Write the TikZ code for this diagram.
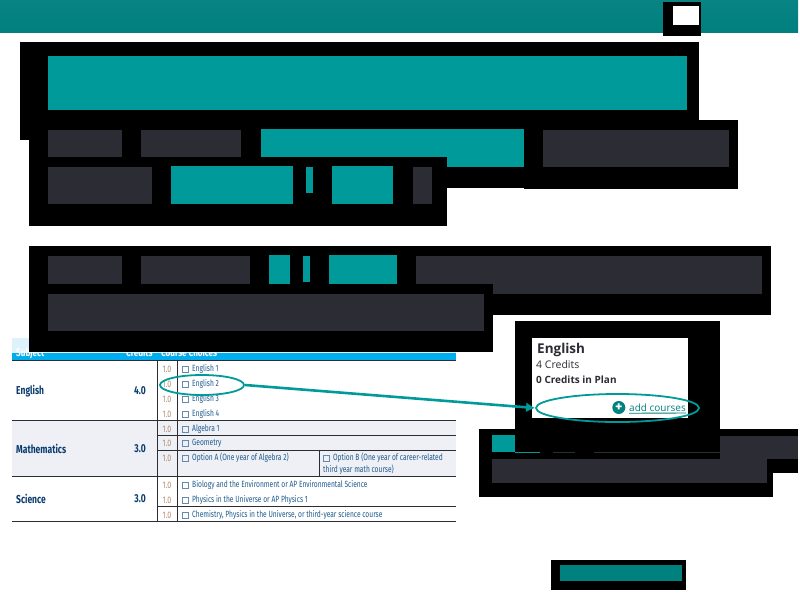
\documentclass[tikz,border=0pt]{standalone}
\usepackage{fontspec}
\setmainfont{Fira Sans}
\newfontfamily\tablefont[FakeStretch=0.74]{Fira Sans}
\newfontfamily\cardfont{Open Sans}
\usetikzlibrary{positioning,arrows.meta,shapes.geometric}
\definecolor{tealbar}{HTML}{00807F}
\definecolor{tealblock}{HTML}{009A9A}
\definecolor{darkblock}{HTML}{2C2C35}
\definecolor{headblue}{HTML}{00AEEF}
\definecolor{headpale}{HTML}{DDF2FB}
\definecolor{rowgrey}{HTML}{EEF0F6}
\definecolor{itemblue}{HTML}{1F5A8C}
\definecolor{subjblue}{HTML}{0B3C6F}
\definecolor{creditorange}{HTML}{B08A70}
\begin{document}
\begin{tikzpicture}[x=1pt,y=-1pt,
		redact/.style={fill=black},
		tealb/.style={fill=tealblock},
		darkb/.style={fill=darkblock},
		subject/.style={anchor=west,inner sep=0pt,font=\tablefont\bfseries\fontsize{11.5}{12}\selectfont,text=subjblue},
		amount/.style={anchor=east,inner sep=0pt,font=\tablefont\bfseries\fontsize{11.5}{12}\selectfont,text=subjblue},
		head/.style={anchor=base west,inner sep=0pt,font=\tablefont\bfseries\fontsize{11}{12}\selectfont,text=white},
		credit/.style={inner sep=0pt,font=\tablefont\fontsize{9.5}{10}\selectfont,text=creditorange},
		item/.style={anchor=west,inner sep=0pt,font=\tablefont\fontsize{9}{10}\selectfont,text=itemblue},
		tick/.style={draw=itemblue!70,line width=.7pt,inner sep=0pt,minimum size=6pt},
		ring/.style={ellipse,draw=tealblock,line width=1.8pt,inner sep=0pt},
		cardtext/.style={anchor=west,inner sep=0pt,font=\cardfont\fontsize{10.5}{11}\selectfont,text=darkblock}]
	\useasboundingbox (0,0) rectangle (800,600);

	% table
	\fill[headpale] (12,338) rectangle (456,353);
	\fill[headblue] (12,353) rectangle (456,360);
	\fill[rowgrey] (12,420) rectangle (456,476);
	\node[head] (subjhead) at (16,356.5) {Subject};
	\node[head] (credhead) at (126,356.5) {Credits};
	\node[head] (coursehead) at (161,356.5) {Course Choices};
	\foreach \ypos in {360,420,476,521}
		\draw[line width=1pt,darkblock] (12,\ypos) -- (456,\ypos);
	\foreach \ypos in {435,450,506}
		\draw[line width=.9pt,darkblock] (157,\ypos) -- (456,\ypos);
	\draw[line width=.9pt,darkblock] (157,360) -- (157,521);
	\draw[line width=.9pt,darkblock] (177,360) -- (177,521);
	\draw[line width=.9pt,darkblock] (319,450) -- (319,476);

	\node[subject] (english) at (16,391) {English};
	\node[subject] (maths) at (16,449) {Mathematics};
	\node[subject] (science) at (16,499) {Science};
	\node[amount] (c1) at (146,391) {4.0};
	\node[amount] (c2) at (146,449) {3.0};
	\node[amount] (c3) at (146,499) {3.0};

	\foreach \ypos/\txt in {369/English 1,384/English 2,399/English 3,414/English 4,
			429/Algebra 1,443/Geometry,458/Option A (One year of Algebra 2),
			485/Biology and the Environment or AP Environmental Science,
			500/Physics in the Universe or AP Physics 1,
			515/{Chemistry, Physics in the Universe, or third-year science course}} {
		\node[credit] at (167,\ypos) {1.0};
		\node[tick] at (185,\ypos) {};
		\node[item] at (192,\ypos) {\txt};
	}
	\node[tick] (optb) at (326,458) {};
	\node[item,right=3.5pt of optb] (optbtext) {Option B (One year of career-related};
	\node[item] (optbmore) at (323,470) {third year math course)};

	% blocks over the page
	\shade[top color=tealbar!97!white,bottom color=tealbar] (0,0) rectangle (798,32);
	\fill[redact] (663,2) rectangle (701,36);
	\fill[white] (673,6) rectangle (699,25);

	\fill[redact] (20,42) rectangle (699,140);
	\fill[redact] (524,120) rectangle (738,189);
	\fill[redact] (29,129) rectangle (524,188);
	\fill[redact] (29,157) rectangle (447,226);
	\fill[tealb] (48,56) rectangle (687,110);
	\fill[darkb] (48,130) rectangle (122,157);
	\fill[darkb] (141,130) rectangle (241,157);
	\fill[tealb] (261,129) rectangle (524,157);
	\fill[tealb] (447,157) rectangle (524,167);
	\fill[darkb] (543,130) rectangle (729,167);
	\fill[darkb] (48,167) rectangle (152,204);
	\fill[tealb] (171,166) rectangle (293,204);
	\fill[tealb] (306,167) rectangle (313,193);
	\fill[tealb] (332,166) rectangle (393,204);
	\fill[darkb] (413,167) rectangle (432,204);

	\fill[redact] (29,246) rectangle (771,315);
	\fill[darkb] (48,256) rectangle (122,284);
	\fill[darkb] (141,256) rectangle (250,284);
	\fill[tealb] (269,255) rectangle (290,284);
	\fill[tealb] (303,256) rectangle (310,282);
	\fill[tealb] (329,255) rectangle (397,284);
	\fill[darkb] (416,256) rectangle (762,294);
	\fill[redact] (29,284) rectangle (493,352);
	\fill[darkb] (48,294) rectangle (484,331);

	% lower right blocks
	\fill[redact] (479,429) rectangle (798,473);
	\fill[redact] (479,452) rectangle (773,497);
	\fill[tealb] (492,435) rectangle (515,452);
	\fill[darkb] (720,436) rectangle (798,459);
	\fill[redact] (720,459) rectangle (773,473);
	\fill[darkb] (492,459) rectangle (767,483);
	\fill[redact] (551,560) rectangle (686,590);
	\fill[tealbar] (560,565) rectangle (682,581);

	% card
	\fill[redact] (515,321) rectangle (720,452);
	\fill[tealb] (515,451.5) rectangle (540,452.5);
	\fill[darkb] (553,451.5) rectangle (575,452.5);
	\fill[darkb] (594,451.5) rectangle (720,452.5);
	\fill[white] (532,338) rectangle (688,418);
	\node[cardtext,font=\cardfont\bfseries\fontsize{13.5}{14}\selectfont] (cardtitle) at (537,350) {English};
	\node[cardtext] (cardcredits) at (536,364.5) {4 Credits};
	\node[cardtext,font=\cardfont\bfseries\fontsize{10}{11}\selectfont] (cardplan) at (536,379.5) {0 Credits in Plan};
	\node[anchor=east,inner sep=0pt,text=tealbar,font=\cardfont\fontsize{10}{11}\selectfont] (addlink) at (686,407.5) {add courses};
	\draw[tealbar,line width=.9pt] (addlink.base west) ++(0,2) -- (addlink.base east |- 0,413);
	\node[circle,fill=tealbar,text=white,inner sep=0pt,minimum size=13pt,font=\bfseries\fontsize{14}{14}\selectfont,left=3.5pt of addlink] (addicon) {+};

	% callouts
	\node[ring,minimum width=84pt,minimum height=20pt] (pick) at (202,385) {};
	\node[ring,minimum width=163pt,minimum height=28pt] (target) at (617.5,408) {};
	\draw[tealblock,line width=2.6pt,-{Latex[length=9pt,width=10pt]}] (pick.east) -- (target.west);
\end{tikzpicture}
\end{document}
